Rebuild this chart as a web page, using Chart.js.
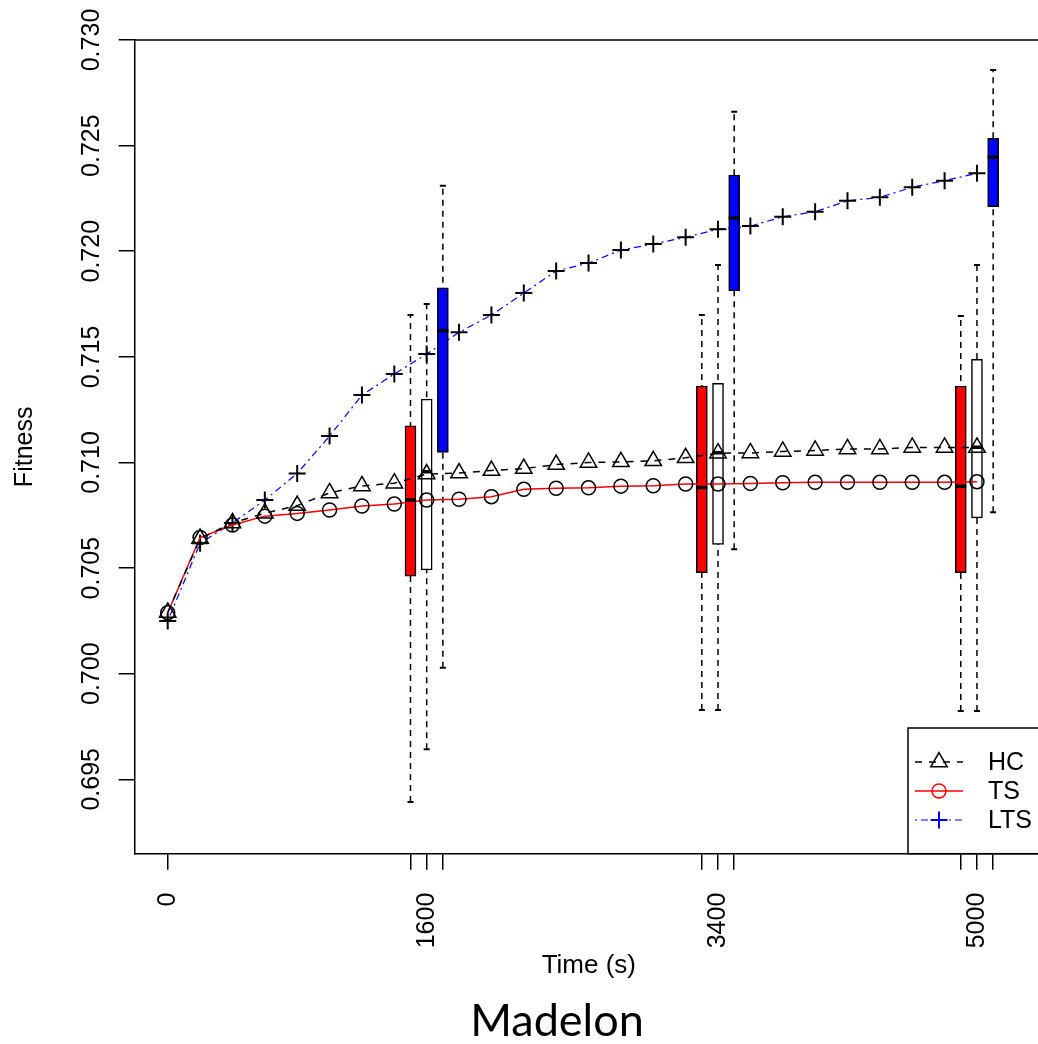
<!DOCTYPE html>
<html>
<head>
<meta charset="utf-8">
<script src="https://cdn.jsdelivr.net/npm/chart.js@4.4.0/dist/chart.umd.min.js"></script>
<style>
  html, body { margin: 0; padding: 0; background: #fff; overflow: hidden; width: 1038px; height: 1044px; }
  #wrap { position: absolute; left: 0; top: 0; width: 1054px; height: 1000px; }
  #caption { position: absolute; left: 0; top: 997px; width: 1114px; text-align: center;
             font-family: Lato, "Open Sans", sans-serif; font-size: 45px; line-height: 45px; color: #000; }
</style>
</head>
<body>
<div id="wrap"><canvas id="chart" width="1054" height="1000"></canvas></div>
<div id="caption">Madelon</div>
<script>
// time (s) of each sample on the curves
const times = [0, 200, 400, 600, 800, 1000, 1200, 1400, 1600, 1800, 2000, 2200, 2400,
               2600, 2800, 3000, 3200, 3400, 3600, 3800, 4000, 4200, 4400, 4600, 4800, 5000];

const hcValues = [0.70290, 0.70640, 0.70714, 0.70760, 0.70796, 0.70856, 0.70889, 0.70902, 0.70945,
                  0.70950, 0.70962, 0.70971, 0.70990, 0.71000, 0.71003, 0.71008, 0.71022, 0.71044,
                  0.71045, 0.71052, 0.71057, 0.71064, 0.71064, 0.71071, 0.71071, 0.71071];
const tsValues = [0.70289, 0.70645, 0.70704, 0.70746, 0.70759, 0.70775, 0.70794, 0.70803, 0.70822,
                  0.70826, 0.70838, 0.70873, 0.70878, 0.70880, 0.70888, 0.70890, 0.70898, 0.70898,
                  0.70901, 0.70904, 0.70906, 0.70906, 0.70906, 0.70906, 0.70906, 0.70909];
const ltsValues = [0.70249, 0.70618, 0.70714, 0.70822, 0.70948, 0.71125, 0.71319, 0.71419, 0.71513,
                   0.71616, 0.71698, 0.71802, 0.71906, 0.71944, 0.72006, 0.72034, 0.72066, 0.72104,
                   0.72119, 0.72163, 0.72187, 0.72239, 0.72255, 0.72303, 0.72334, 0.72369];

// boxplots: [min, q1, median, q3, max]
const tsBoxTimes = [1500, 3300, 4900];
const tsBoxes = [
  [0.69393, 0.70462, 0.70822, 0.71174, 0.71698],
  [0.69828, 0.70478, 0.70882, 0.71362, 0.71698],
  [0.69823, 0.70478, 0.70888, 0.71362, 0.71693]
];
const hcBoxTimes = [1600, 3400, 5000];
const hcBoxes = [
  [0.69642, 0.70491, 0.70956, 0.71300, 0.71750],
  [0.69828, 0.70612, 0.71046, 0.71375, 0.71935],
  [0.69823, 0.70738, 0.71072, 0.71488, 0.71935]
];
const ltsBoxTimes = [1700, 3500, 5100];
const ltsBoxes = [
  [0.70028, 0.71048, 0.71624, 0.71827, 0.72310],
  [0.70589, 0.71812, 0.72156, 0.72361, 0.72660],
  [0.70764, 0.72211, 0.72445, 0.72535, 0.72858]
];

const xTicks = [0, 1500, 1600, 1700, 3300, 3400, 3500, 4900, 5000, 5100];
const xTickLabels = ['0', '', '1600', '', '', '3400', '', '', '5000', ''];
const yTicks = [0.695, 0.700, 0.705, 0.710, 0.715, 0.720, 0.725, 0.730];

const FONT = "'Liberation Sans', Arial, sans-serif";

const pts = vals => times.map((t, i) => ({x: t, y: vals[i]}));

const boxGroups = [
  {times: tsBoxTimes, boxes: tsBoxes, fill: '#FF0000'},
  {times: hcBoxTimes, boxes: hcBoxes, fill: '#FFFFFF'},
  {times: ltsBoxTimes, boxes: ltsBoxes, fill: '#0000FF'}
];

const datasets = [
  {
    type: 'line', label: 'HC', data: pts(hcValues), order: 1,
    borderColor: '#000', borderWidth: 1.5, borderDash: [7, 7],
    pointStyle: 'triangle', pointRadius: 9.5, pointBorderWidth: 1.5,
    pointBorderColor: '#000', pointBackgroundColor: 'rgba(0,0,0,0)'
  },
  {
    type: 'line', label: 'TS', data: pts(tsValues), order: 1,
    borderColor: '#FF0000', borderWidth: 1.5,
    pointStyle: 'circle', pointRadius: 7, pointBorderWidth: 1.5,
    pointBorderColor: '#000', pointBackgroundColor: 'rgba(0,0,0,0)'
  },
  {
    type: 'line', label: 'LTS', data: pts(ltsValues), order: 1,
    borderColor: '#0000FF', borderWidth: 1.2, borderDash: [2, 4, 7, 4],
    pointStyle: 'cross', pointRadius: 8.5, pointBorderWidth: 2,
    pointBorderColor: '#000', pointBackgroundColor: 'rgba(0,0,0,0)'
  }
];

const whiskers = [], caps = [], medians = [];
boxGroups.forEach(g => {
  datasets.push({
    type: 'bar', label: '_box', order: 3, grouped: false,
    data: g.times.map((t, i) => ({x: t, y: [g.boxes[i][1], g.boxes[i][3]]})),
    backgroundColor: g.fill, borderColor: '#000', borderWidth: 1.5,
    borderSkipped: false, barThickness: 11
  });
  g.times.forEach((t, i) => {
    const b = g.boxes[i];
    whiskers.push({x: t, y: b[0]}, {x: t, y: b[4]}, {x: t, y: null});
    caps.push({x: t, y: b[0]}, {x: t, y: b[4]});
    medians.push({x: t, y: b[2]});
  });
});
whiskers.sort((a, b) => a.x - b.x);

datasets.push(
  {
    type: 'line', label: '_whisker', data: whiskers, order: 5, spanGaps: false,
    borderColor: '#000', borderWidth: 1.5, borderDash: [6, 5], pointRadius: 0
  },
  {
    type: 'line', label: '_cap', data: caps, order: 4, showLine: false,
    pointStyle: 'line', pointRadius: 3, pointBorderWidth: 2, pointBorderColor: '#000'
  },
  {
    type: 'line', label: '_median', data: medians, order: 0, showLine: false,
    pointStyle: 'line', pointRadius: 5.5, pointBorderWidth: 3.5, pointBorderColor: '#000'
  }
);

// box around the plot and the R-style legend in the bottom-right corner
const frameLegend = {
  id: 'frameLegend',
  afterDraw(chart) {
    const {ctx, chartArea: a} = chart;
    ctx.save();
    ctx.strokeStyle = '#000';
    ctx.lineWidth = 1.5;
    ctx.setLineDash([]);
    ctx.beginPath();
    ctx.moveTo(a.left, a.top);
    ctx.lineTo(a.right, a.top);
    ctx.lineTo(a.right, a.bottom);
    ctx.stroke();

    const x0 = 908, y0 = 728;
    ctx.fillStyle = '#fff';
    ctx.fillRect(x0, y0, a.right - x0, a.bottom - y0);
    ctx.strokeRect(x0, y0, a.right - x0, a.bottom - y0);

    const rows = [762, 791, 820];
    datasets.slice(0, 3).forEach((ds, i) => {
      const y = rows[i];
      ctx.strokeStyle = ds.borderColor;
      ctx.lineWidth = ds.borderWidth;
      ctx.setLineDash(ds.borderDash || []);
      ctx.beginPath();
      ctx.moveTo(915, y);
      ctx.lineTo(963, y);
      ctx.stroke();
      ctx.setLineDash([]);
      ctx.fillStyle = 'rgba(0,0,0,0)';
      ctx.lineWidth = ds.pointBorderWidth;
      Chart.helpers.drawPoint(ctx, {pointStyle: ds.pointStyle, radius: ds.pointRadius,
        borderWidth: ds.pointBorderWidth, rotation: 0}, 939, y);
      ctx.fillStyle = '#000';
      ctx.font = '25px ' + FONT;
      ctx.textAlign = 'left';
      ctx.textBaseline = 'middle';
      ctx.fillText(ds.label, 988, y + 1);
    });
    ctx.restore();
  }
};

const axisGrid = {drawOnChartArea: false, drawTicks: true, tickLength: 16, offset: false,
                  color: '#000', lineWidth: 1.5};
const axisBorder = {display: true, color: '#000', width: 1.5};

new Chart(document.getElementById('chart'), {
  type: 'line',
  data: {datasets},
  options: {
    responsive: false,
    animation: false,
    events: [],
    layout: {padding: {top: 40, right: 5, left: 0, bottom: 0}},
    plugins: {legend: {display: false}, tooltip: {enabled: false}},
    scales: {
      x: {
        type: 'linear', min: -204, max: 5408, offset: false,
        afterBuildTicks: s => { s.ticks = xTicks.map(v => ({value: v})); },
        afterFit: s => { s.height = 146.3; },
        grid: axisGrid, border: axisBorder,
        ticks: {
          autoSkip: false, minRotation: 90, maxRotation: 90, padding: 23,
          color: '#000', font: {family: FONT, size: 25},
          callback: v => xTickLabels[xTicks.indexOf(v)] || ''
        },
        title: {display: true, text: 'Time (s)', color: '#000',
                font: {family: FONT, size: 26}, padding: {top: 0, bottom: 19}}
      },
      y: {
        type: 'linear', min: 0.69148, max: 0.730,
        afterBuildTicks: s => { s.ticks = yTicks.map(v => ({value: v})); },
        afterFit: s => { s.width = 134.7; },
        grid: axisGrid, border: axisBorder,
        ticks: {
          minRotation: 90, maxRotation: 90, crossAlign: 'center', padding: -5,
          color: '#000', font: {family: FONT, size: 25},
          callback: v => v.toFixed(3)
        },
        title: {display: true, text: 'Fitness', color: '#000',
                font: {family: FONT, size: 25}, padding: {top: 10, bottom: 0}}
      }
    }
  },
  plugins: [frameLegend]
});
</script>
</body>
</html>
